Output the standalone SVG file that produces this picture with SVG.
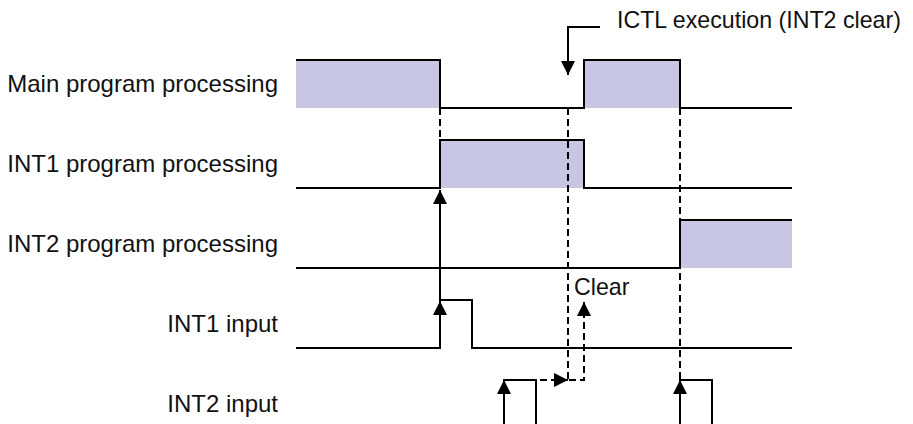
<svg xmlns="http://www.w3.org/2000/svg" width="913" height="424" viewBox="0 0 913 424">
<style>
text{font-family:"Liberation Sans",Arial,sans-serif;font-size:24px;fill:#111}
text.small{font-size:23.2px}
.sig{fill:none;stroke:#000;stroke-width:2}
.fill{fill:#c7c7e3;stroke:none}
.solid{fill:none;stroke:#000;stroke-width:2}
.dash{fill:none;stroke:#000;stroke-width:2;stroke-dasharray:7 4}
</style>
<defs>
<marker id="ah" viewBox="0 0 14 14" refX="14" refY="7" markerWidth="14" markerHeight="14" markerUnits="userSpaceOnUse" orient="auto">
<path d="M0,0 L14,7 L0,14 z" fill="#000" stroke="none"/>
</marker>
</defs>
<g id="main">
<text x="278" y="92" text-anchor="end">Main program processing</text>
<rect class="fill" x="296" y="60" width="144" height="48"/>
<rect class="fill" x="584" y="60" width="96" height="48"/>
<path class="sig" d="M296,60 H440 V108 H584 V60 H680 V108 H792"/>
</g>
<g id="int1prog">
<text x="278" y="172" text-anchor="end">INT1 program processing</text>
<rect class="fill" x="440" y="140" width="144" height="48"/>
<path class="sig" d="M296,188 H440 V140 H584 V188 H792"/>
</g>
<g id="int2prog">
<text x="278" y="252" text-anchor="end">INT2 program processing</text>
<rect class="fill" x="680" y="220" width="112" height="48"/>
<path class="sig" d="M296,268 H680 V220 H792"/>
</g>
<g id="int1in">
<text x="278" y="332" text-anchor="end">INT1 input</text>
<path class="sig" d="M296,348 H440 V300 H472 V348 H792"/>
</g>
<g id="int2in">
<text x="278" y="412" text-anchor="end">INT2 input</text>
<path class="sig" d="M504,424 V380 H536 V424"/>
<path class="sig" d="M680,424 V380 H712 V424"/>
</g>
<g id="ictl">
<text class="small" x="617" y="28">ICTL execution (INT2 clear)</text>
</g>
<g id="clear">
<text class="small" x="574" y="295">Clear</text>
</g>
<g id="connectors">
<path class="dash" d="M440,108 V140"/>
<path class="dash" d="M568,108 V380"/>
<path class="dash" d="M680,108 V380"/>
<path class="solid" d="M440,330 V301" marker-end="url(#ah)"/>
<path class="solid" d="M440,300 V190" marker-end="url(#ah)"/>
<path class="solid" d="M504,420 V380" marker-end="url(#ah)"/>
<path class="solid" d="M680,420 V380" marker-end="url(#ah)"/>
<path class="solid" d="M600,27 H568 V75" marker-end="url(#ah)"/>
<path class="dash" d="M540,380 H568" marker-end="url(#ah)"/>
<path class="dash" d="M569,380 H584 V302" marker-end="url(#ah)"/>
</g>
</svg>
